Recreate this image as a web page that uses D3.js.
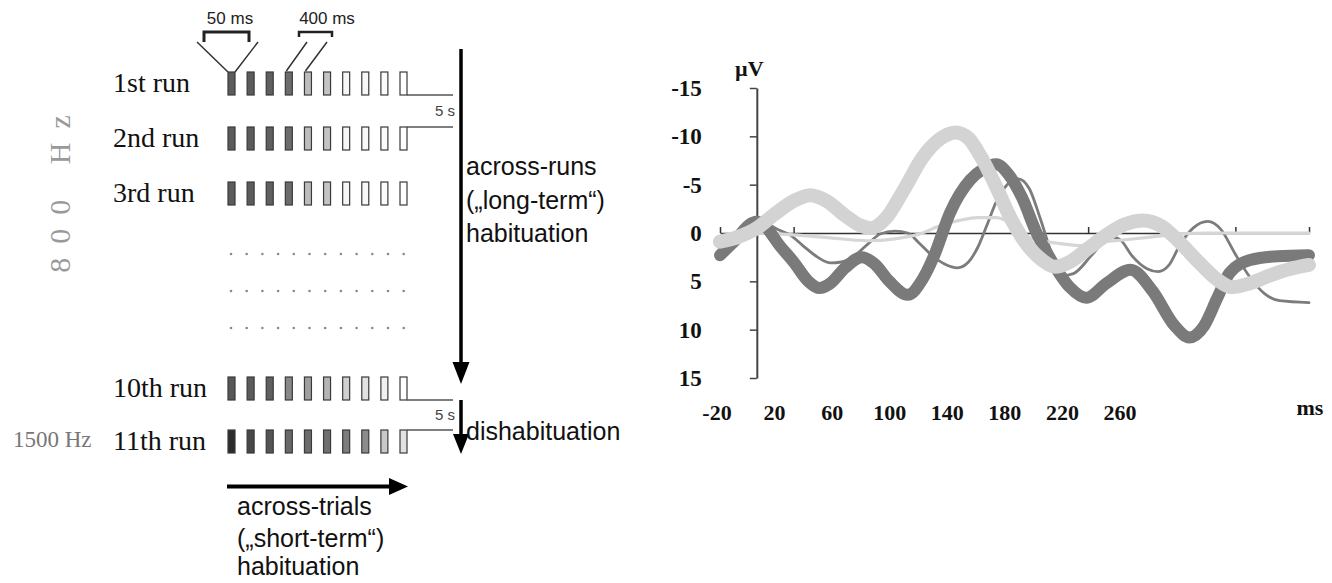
<!DOCTYPE html>
<html>
<head>
<meta charset="utf-8">
<script src="https://cdn.jsdelivr.net/npm/d3@7"></script>
<style>
  body { margin: 0; background: #fff; }
  svg { display: block; }
  .serif { font-family: "Liberation Serif", "Times New Roman", serif; }
  .sans { font-family: "Liberation Sans", Arial, sans-serif; }
</style>
</head>
<body>
<svg id="fig" width="1332" height="583"></svg>
<script>
// ---- paradigm (left panel) ----
var runLabels = ['1st run', '2nd run', '3rd run', '10th run', '11th run'];
var runShades = [
  ['#5c5c5c', '#5c5c5c', '#606060', '#6c6c6c', '#bdbdbd', '#c4c4c4', '#f6f6f6', '#f8f8f8', '#fbfbfb', '#ffffff'],
  ['#5c5c5c', '#5c5c5c', '#606060', '#6c6c6c', '#bdbdbd', '#c4c4c4', '#f6f6f6', '#f8f8f8', '#fbfbfb', '#ffffff'],
  ['#5c5c5c', '#5c5c5c', '#606060', '#6c6c6c', '#bdbdbd', '#c4c4c4', '#f6f6f6', '#f8f8f8', '#fbfbfb', '#ffffff'],
  ['#585858', '#5c5c5c', '#606060', '#888888', '#a0a0a0', '#b4b4b4', '#d0d0d0', '#e2e2e2', '#f0f0f0', '#ffffff'],
  ['#2c2c2c', '#484848', '#555555', '#686868', '#6c6c6c', '#707070', '#7c7c7c', '#8c8c8c', '#c8c8c8', '#e2e2e2']
];
var trialsPerRun = 10;
var dotsPerRow = 12;
var dotRowCount = 3;

// ---- ERP (right panel) : [ms, µV] ----
var yTicks = [-15, -10, -5, 0, 5, 10, 15];
var xTicks = [-20, 20, 60, 100, 140, 180, 220, 260, 300];
var xTickLabels = [-20, 20, 60, 100, 140, 180, 220, 260];

var thickDark = [[-20, 2.3], [-12, 0.8], [-3, -1.0], [0, -1.2], [5, -0.6], [12, 1.2], [20, 3.0],
  [28, 5.0], [34, 5.7], [40, 5.2], [48, 3.6], [57, 2.5], [64, 3.2], [72, 5.0], [82, 6.4],
  [90, 4.8], [96, 2.5], [105, -2.1], [116, -5.5], [123, -6.6], [130, -7.1], [137, -6.0],
  [144, -3.7], [152, 0], [159, 2.5], [170, 5.6], [179, 6.7], [190, 5.2], [203, 3.8],
  [215, 6.0], [227, 9.6], [235, 10.8], [243, 9.6], [250, 6.8], [257, 4.1], [268, 2.8],
  [283, 2.4], [300, 2.3]];

var thickLight = [[-20, 0.9], [-10, 0.4], [0, -0.5], [10, -2.0], [20, -3.3], [29, -3.9],
  [38, -3.3], [48, -1.8], [56, -0.8], [62, -0.5], [70, -1.5], [80, -4.5], [90, -7.8],
  [100, -9.8], [108, -10.4], [115, -9.8], [122, -7.8], [130, -4.8], [138, -1.5], [146, 1.0],
  [155, 2.8], [162, 3.5], [170, 3.0], [180, 1.6], [190, 0.2], [200, -0.9], [210, -1.3],
  [220, -0.7], [230, 1.0], [240, 3.0], [250, 4.8], [258, 5.6], [268, 5.2], [280, 4.3],
  [290, 3.7], [300, 3.3]];

var thinDark = [[-20, 1.5], [-10, 0.3], [0, -1.2], [5, -1.0], [12, -0.3], [18, 0.2], [25, 1.3],
  [33, 2.5], [40, 3.1], [46, 3.0], [52, 2.5], [60, 1.2], [67, 0.1], [75, -0.2], [82, 0.0],
  [88, 1.0], [95, 2.3], [102, 3.2], [109, 3.6], [115, 3.0], [120, 1.5], [125, -0.8],
  [130, -3.2], [136, -5.0], [142, -5.6], [148, -4.6], [154, -1.5], [160, 2.0], [166, 4.4],
  [172, 4.2], [181, 2.5], [188, 1.0], [193, 0.4], [198, 0.8], [204, 2.4], [212, 3.7],
  [218, 4.0], [224, 3.3], [230, 1.2], [237, -0.5], [245, -1.2], [252, -0.4], [260, 2.2],
  [268, 4.6], [276, 6.3], [284, 7.0], [300, 7.2]];

var thinLight = [[-20, 0.8], [-10, 0.4], [0, 0], [20, 0.2], [40, 0.5], [60, 0.8], [75, 0.6],
  [90, 0], [100, -0.8], [110, -1.3], [120, -1.6], [130, -1.6], [138, -1.0], [145, 0.2],
  [155, 0.8], [165, 1.1], [175, 1.3], [185, 1.0], [200, 0.7], [215, 0.4], [230, 0.1],
  [245, 0], [300, 0]];

var svg = d3.select('#fig');
svg.append('rect').attr('width', 1332).attr('height', 583).attr('fill', '#fff');

/*
  left panel: stimulation runs
 **/
var left = svg.append('g').attr('class', 'paradigm');
var trialX = d3.scaleLinear().domain([0, trialsPerRun - 1]).range([228, 400]);
var rectW = 7, rectH = 23, gapEnd = 453;

function rowTop(i) {
  return i < 3 ? 72 + 55 * i : 377 + 53 * (i - 3);
}

var runs = left.selectAll('.run')
  .data(runLabels)
  .enter().append('g')
  .attr('class', 'run');

runs.append('text')
  .attr('class', 'serif')
  .attr('x', 113)
  .attr('y', function(d, i) { return rowTop(i) + rectH - 3; })
  .attr('font-size', 28)
  .attr('fill', '#111')
  .text(function(d) { return d; });

runs.selectAll('rect')
  .data(function(d, i) { return runShades[i].map(function(c) { return {fill: c, row: i}; }); })
  .enter().append('rect')
  .attr('x', function(d, j) { return trialX(j); })
  .attr('y', function(d) { return rowTop(d.row); })
  .attr('width', rectW)
  .attr('height', rectH)
  .attr('fill', function(d) { return d.fill; })
  .attr('stroke', '#3a3a3a')
  .attr('stroke-width', 1.2);

// 5 s pauses between runs
[[0, 1], [3, 4]].forEach(function(pair) {
  var x0 = trialX(trialsPerRun - 1) + rectW;
  var yA = rowTop(pair[0]) + rectH, yB = rowTop(pair[1]);
  left.append('path')
    .attr('d', 'M' + x0 + ',' + yA + ' H' + gapEnd + ' M' + x0 + ',' + yB + ' H' + gapEnd)
    .attr('fill', 'none')
    .attr('stroke', '#555')
    .attr('stroke-width', 1.5);
  left.append('text')
    .attr('class', 'sans')
    .attr('x', gapEnd + 2)
    .attr('y', (yA + yB) / 2 + 5)
    .attr('text-anchor', 'end')
    .attr('font-size', 15)
    .attr('fill', '#444')
    .text('5 s');
});

// dotted rows between 3rd and 10th run
d3.range(dotRowCount).forEach(function(r) {
  left.selectAll('.dot' + r)
    .data(d3.range(dotsPerRow))
    .enter().append('circle')
    .attr('cx', function(k) { return 231 + k * 15.7; })
    .attr('cy', 254 + r * 37)
    .attr('r', 1.3)
    .attr('fill', '#8a8a8a');
});

// duration brackets
left.append('path')
  .attr('d', 'M204,42 V32 H249 V42')
  .attr('fill', 'none').attr('stroke', '#222').attr('stroke-width', 3);
left.append('path')
  .attr('d', 'M197,42 L' + trialX(0) + ',' + rowTop(0) + ' M258,42 L' + (trialX(0) + rectW) + ',' + rowTop(0))
  .attr('fill', 'none').attr('stroke', '#333').attr('stroke-width', 1.5);
left.append('path')
  .attr('d', 'M299,37 V32 H332 V37')
  .attr('fill', 'none').attr('stroke', '#222').attr('stroke-width', 2.5);
left.append('path')
  .attr('d', 'M307,42 L' + (trialX(3) + 1) + ',' + (rowTop(0) - 1) + ' M327,42 L' + (trialX(4) + 1) + ',' + (rowTop(0) - 1))
  .attr('fill', 'none').attr('stroke', '#333').attr('stroke-width', 1.5);
left.append('text').attr('class', 'sans')
  .attr('x', 230).attr('y', 24).attr('text-anchor', 'middle')
  .attr('font-size', 17).attr('fill', '#222').text('50 ms');
left.append('text').attr('class', 'sans')
  .attr('x', 327).attr('y', 24).attr('text-anchor', 'middle')
  .attr('font-size', 17).attr('fill', '#222').text('400 ms');

// arrows
function arrow(g, x1, y1, x2, y2, w, head, half) {
  var a = Math.atan2(y2 - y1, x2 - x1),
      bx = x2 - head * Math.cos(a), by = y2 - head * Math.sin(a),
      px = -Math.sin(a) * half, py = Math.cos(a) * half;
  g.append('line')
    .attr('x1', x1).attr('y1', y1).attr('x2', bx).attr('y2', by)
    .attr('stroke', '#000').attr('stroke-width', w);
  g.append('path')
    .attr('d', 'M' + x2 + ',' + y2 + ' L' + (bx + px) + ',' + (by + py) + ' L' + (bx - px) + ',' + (by - py) + 'Z')
    .attr('fill', '#000');
}
arrow(left, 461, 49, 461, 384, 3.5, 22, 8.5);
arrow(left, 461, 400, 461, 454, 3.5, 20, 8);
arrow(left, 227, 486.5, 408, 486.5, 4, 19, 8.5);

var sideText = [
  {x: 466, y: 175, t: 'across-runs'},
  {x: 466, y: 209, t: '(\u201elong-term\u201c)'},
  {x: 466, y: 242, t: 'habituation'},
  {x: 466, y: 440, t: 'dishabituation'},
  {x: 237, y: 515, t: 'across-trials'},
  {x: 237, y: 547, t: '(\u201eshort-term\u201c)'},
  {x: 237, y: 575, t: 'habituation'}
];
left.selectAll('.note')
  .data(sideText)
  .enter().append('text')
  .attr('class', 'sans note')
  .attr('x', function(d) { return d.x; })
  .attr('y', function(d) { return d.y; })
  .attr('font-size', 25)
  .attr('fill', '#111')
  .text(function(d) { return d.t; });

left.append('text')
  .attr('class', 'serif')
  .attr('transform', 'translate(70,187) rotate(-90)')
  .attr('text-anchor', 'middle')
  .attr('font-size', 30)
  .attr('letter-spacing', 14)
  .attr('fill', '#999')
  .text('800 Hz');
left.append('text')
  .attr('class', 'serif')
  .attr('x', 13).attr('y', 447)
  .attr('font-size', 23)
  .attr('fill', '#777')
  .text('1500 Hz');

/*
  right panel: ERP curves
 **/
var x = d3.scaleLinear().domain([-20, 300]).range([720, 1309]);
var y = d3.scaleLinear().domain([-15, 15]).range([88, 378]);
var xLabel = d3.scaleLinear().domain([-20, 260]).range([717, 1120]);

var chart = svg.append('g').attr('class', 'erp');

function fmtY(d) {
  return d < 0 ? '-' + Math.abs(d) : String(d);
}

var yAxis = chart.append('g')
  .attr('transform', 'translate(' + x(0) + ',0)')
  .call(d3.axisLeft(y).tickValues(yTicks).tickSize(7).tickSizeOuter(0).tickPadding(48).tickFormat(fmtY));
yAxis.select('.domain').attr('stroke', '#444').attr('stroke-width', 2);
yAxis.selectAll('.tick line').attr('stroke', '#444').attr('stroke-width', 1.5);
yAxis.selectAll('.tick text')
  .attr('class', 'serif')
  .attr('font-size', 23)
  .attr('font-weight', 'bold')
  .attr('fill', '#111');

var zeroAxis = chart.append('g')
  .attr('transform', 'translate(0,' + y(0) + ')')
  .call(d3.axisBottom(x).tickValues(xTicks).tickSizeInner(-6).tickSizeOuter(0).tickFormat(''));
zeroAxis.select('.domain').attr('stroke', '#333').attr('stroke-width', 1.5);
zeroAxis.selectAll('.tick line').attr('stroke', '#333').attr('stroke-width', 1.5);

chart.selectAll('.xlab')
  .data(xTickLabels)
  .enter().append('text')
  .attr('class', 'serif xlab')
  .attr('x', xLabel)
  .attr('y', 420)
  .attr('text-anchor', 'middle')
  .attr('font-size', 22)
  .attr('font-weight', 'bold')
  .attr('fill', '#111')
  .text(function(d) { return d; });

chart.append('text').attr('class', 'serif')
  .attr('x', 1310).attr('y', 415).attr('text-anchor', 'middle')
  .attr('font-size', 22).attr('font-weight', 'bold').attr('fill', '#111')
  .text('ms');
chart.append('text').attr('class', 'serif')
  .attr('x', 735).attr('y', 76)
  .attr('font-size', 22).attr('font-weight', 'bold').attr('fill', '#111')
  .text('\u00b5V');

var line = d3.line()
  .x(function(d) { return x(d[0]); })
  .y(function(d) { return y(d[1]); })
  .curve(d3.curveMonotoneX);

var series = [
  {data: thinDark, color: '#7c7c7c', width: 2.8},
  {data: thinLight, color: '#d6d6d6', width: 3.2},
  {data: thickDark, color: '#7a7a7a', width: 12},
  {data: thickLight, color: '#d3d3d3', width: 14}
];

chart.selectAll('.erp-line')
  .data(series)
  .enter().append('path')
  .attr('class', 'erp-line')
  .attr('d', function(s) { return line(s.data); })
  .attr('fill', 'none')
  .attr('stroke', function(s) { return s.color; })
  .attr('stroke-width', function(s) { return s.width; })
  .attr('stroke-linejoin', 'round')
  .attr('stroke-linecap', 'round');
</script>
</body>
</html>
